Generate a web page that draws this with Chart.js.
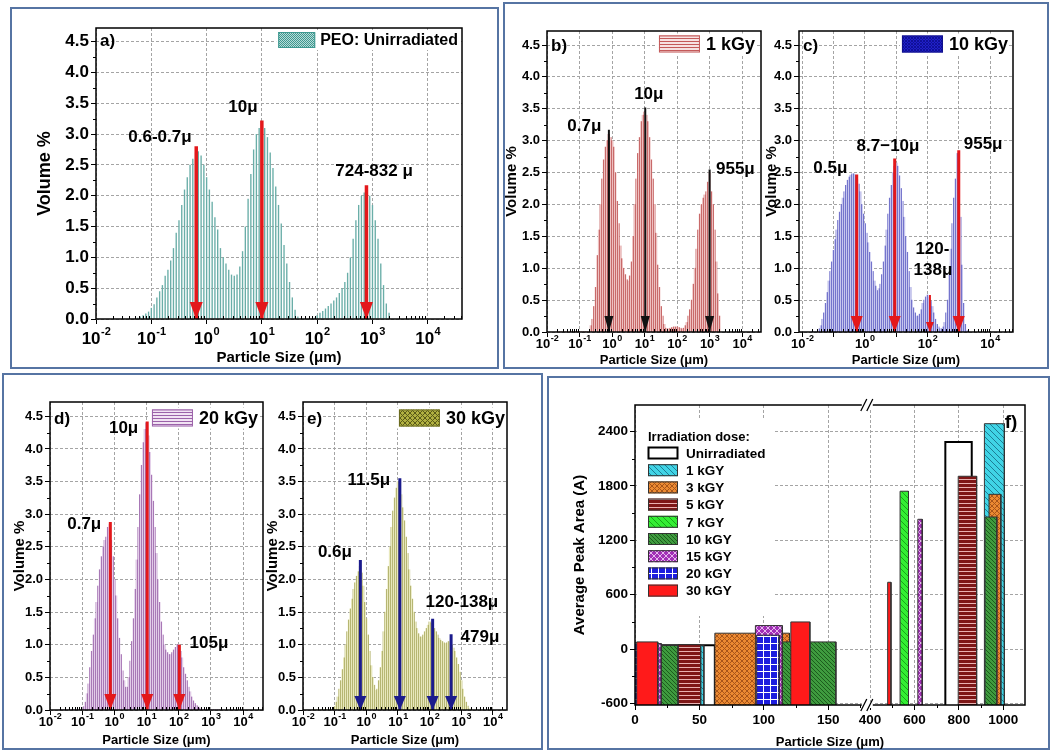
<!DOCTYPE html>
<html>
<head>
<meta charset="utf-8">
<script src="https://cdn.jsdelivr.net/npm/chart.js@4.4.1/dist/chart.umd.min.js"></script>
<style>
html, body { margin: 0; padding: 0; background: #fff; }
#page { position: relative; width: 1051px; height: 751px; overflow: hidden; background: #fff; }
.box { position: absolute; border: 2px solid #5674a3; box-sizing: border-box; }
canvas { position: absolute; }
</style>
</head>
<body>
<div id="page">
  <div class="box" style="left:10px;top:7px;width:489px;height:362px"></div>
  <div class="box" style="left:503px;top:2px;width:546px;height:367px"></div>
  <div class="box" style="left:2px;top:373px;width:541px;height:377px"></div>
  <div class="box" style="left:547px;top:376px;width:503px;height:374px"></div>
  <canvas id="cA"></canvas>
  <canvas id="cB"></canvas>
  <canvas id="cC"></canvas>
  <canvas id="cD"></canvas>
  <canvas id="cE"></canvas>
  <canvas id="cF"></canvas>
</div>
<script>
// ---- data ----
// particle size classes (um), 20 per decade
var sizes = [
  0.020, 0.0224, 0.0252, 0.0283, 0.0317, 0.0356, 0.0399, 0.0448, 0.0502, 0.0564,
  0.0632, 0.0710, 0.0796, 0.0893, 0.1002, 0.1125, 0.1262, 0.1416, 0.1589, 0.1783,
  0.2000, 0.2244, 0.2518, 0.2825, 0.3170, 0.3557, 0.3991, 0.4477, 0.5024, 0.5637,
  0.6325, 0.7096, 0.7962, 0.8934, 1.002, 1.125, 1.262, 1.416, 1.589, 1.783,
  2.000, 2.244, 2.518, 2.825, 3.170, 3.557, 3.991, 4.477, 5.024, 5.637,
  6.325, 7.096, 7.962, 8.934, 10.02, 11.25, 12.62, 14.16, 15.89, 17.83,
  20.00, 22.44, 25.18, 28.25, 31.70, 35.57, 39.91, 44.77, 50.24, 56.37,
  63.25, 70.96, 79.62, 89.34, 100.2, 112.5, 126.2, 141.6, 158.9, 178.3,
  200.0, 224.4, 251.8, 282.5, 317.0, 355.7, 399.1, 447.7, 502.4, 563.7,
  632.5, 709.6, 796.2, 893.4, 1002, 1125, 1262, 1416, 1589, 1783,
  2000
];

// volume % per size class
var volUnirr = [
  0, 0, 0, 0, 0, 0, 0, 0, 0, 0.02,
  0.04, 0.06, 0.09, 0.12, 0.18, 0.24, 0.35, 0.45, 0.55, 0.7,
  0.8, 0.95, 1.15, 1.4, 1.6, 1.85, 2.1, 2.3, 2.5, 2.6,
  2.7, 2.72, 2.65, 2.5, 2.3, 2.1, 1.9, 1.65, 1.45, 1.15,
  1.0, 0.9, 0.8, 0.72, 0.7, 0.72, 0.85, 1.1, 1.5, 1.95,
  2.35, 2.75, 3.0, 3.1, 3.15, 3.1, 2.95, 2.7, 2.45, 2.15,
  1.85, 1.55, 1.2, 0.9, 0.6, 0.35, 0.15, 0.04, 0, 0,
  0, 0, 0, 0.02, 0.06, 0.1, 0.13, 0.17, 0.21, 0.25,
  0.3, 0.35, 0.42, 0.5, 0.6, 0.75, 1.0, 1.3, 1.6, 1.85,
  2.0, 2.05, 2.05, 2.0, 1.85, 1.6, 1.3, 0.9, 0.55, 0.25,
  0.1
];
var vol1kGy = [
  0, 0, 0, 0, 0, 0, 0, 0, 0, 0,
  0, 0, 0, 0, 0, 0, 0, 0, 0, 0,
  0, 0.1, 0.2, 0.4, 0.7, 1.2, 1.6, 2.0, 2.4, 2.7,
  2.9, 3.0, 3.1, 3.05, 3.0, 2.9, 2.5, 2.05, 1.7, 1.35,
  1.15, 1.0, 0.9, 0.82, 0.8, 0.88, 1.1, 1.5, 2.0, 2.4,
  2.8, 3.05, 3.3, 3.4, 3.45, 3.4, 3.3, 3.05, 2.7, 2.4,
  2.0, 1.55, 1.05, 0.7, 0.4, 0.25, 0.12, 0.06, 0.05, 0.05,
  0.06, 0.07, 0.08, 0.08, 0.08, 0.07, 0.06, 0.05, 0.06, 0.1,
  0.15, 0.25, 0.35, 0.5, 0.75, 1.0, 1.3, 1.6, 1.85, 2.0,
  2.1, 2.15, 2.2, 2.35, 2.5, 2.2, 2.0, 1.6, 1.1, 0.6,
  0.25
];
var vol10kGy = [
  0, 0, 0, 0, 0, 0.05, 0.1, 0.2, 0.3, 0.45,
  0.62, 0.8, 0.95, 1.1, 1.28, 1.45, 1.6, 1.75, 1.88, 2.0,
  2.1, 2.2, 2.3, 2.38, 2.43, 2.46, 2.48, 2.48, 2.46, 2.4,
  2.32, 2.2, 2.0, 1.85, 1.7, 1.55, 1.4, 1.25, 1.1, 0.95,
  0.8, 0.72, 0.65, 0.68, 0.75, 0.9, 1.1, 1.35, 1.6, 1.85,
  2.1, 2.3, 2.5, 2.6, 2.65, 2.6, 2.45, 2.25, 2.05, 1.8,
  1.5, 1.25, 0.95, 0.7, 0.5, 0.38, 0.3, 0.25, 0.25, 0.28,
  0.35, 0.45, 0.5, 0.55, 0.58, 0.55, 0.48, 0.4, 0.3, 0.2,
  0.12, 0.08, 0.05, 0.05, 0.08, 0.15, 0.3, 0.5, 0.9, 1.3,
  1.7, 2.1, 2.4, 2.8, 2.0, 1.8, 1.05, 0.45, 0.12, 0.02,
  0
];
var vol20kGy = [
  0, 0, 0, 0, 0, 0, 0, 0, 0, 0,
  0, 0, 0, 0, 0, 0.05, 0.12, 0.25, 0.4, 0.65,
  0.9, 1.15, 1.4, 1.65, 1.9, 2.15, 2.35, 2.5, 2.6, 2.65,
  2.8, 2.85, 2.6, 2.35, 2.0, 1.75, 1.4, 1.1, 0.85, 0.6,
  0.45, 0.35, 0.35, 0.5, 0.75, 1.05, 1.4, 1.85, 2.3, 2.8,
  3.3, 3.75, 4.1, 4.3, 4.4, 4.2, 3.95, 3.6, 3.2, 2.8,
  2.4, 2.0, 1.65, 1.35, 1.15, 1.0, 0.92, 0.88, 0.85, 0.85,
  0.88, 0.92, 0.96, 1.0, 1.0, 0.9, 0.8, 0.65, 0.55, 0.45,
  0.35, 0.28, 0.2, 0.14, 0.1, 0.07, 0.05, 0.03, 0.01, 0,
  0, 0, 0, 0, 0, 0, 0, 0, 0, 0,
  0
];
var vol30kGy = [
  0, 0, 0, 0, 0, 0, 0, 0, 0, 0,
  0, 0, 0, 0, 0.05, 0.12, 0.2, 0.32, 0.45, 0.62,
  0.8, 1.0, 1.2, 1.38, 1.55, 1.7, 1.85, 1.95, 2.05, 2.12,
  2.2, 2.1, 1.9, 1.65, 1.4, 1.15, 0.9, 0.68, 0.5, 0.38,
  0.3, 0.32, 0.45, 0.65, 0.9, 1.2, 1.5, 1.85, 2.2, 2.5,
  2.8, 3.05, 3.25, 3.4, 3.5, 3.42, 3.3, 3.1, 2.9, 2.65,
  2.4, 2.15, 1.9, 1.7, 1.5, 1.35, 1.25, 1.17, 1.12, 1.12,
  1.15, 1.2, 1.25, 1.3, 1.35, 1.33, 1.3, 1.25, 1.2, 1.15,
  1.1, 1.07, 1.05, 1.03, 1.02, 1.03, 1.05, 1.03, 1.0, 0.95,
  0.9, 0.8, 0.7, 0.58, 0.45, 0.32, 0.2, 0.12, 0.06, 0.02,
  0
];

var decades = [0.01, 0.1, 1, 10, 100, 1000, 10000];
var volTicks = [0, 0.5, 1, 1.5, 2, 2.5, 3, 3.5, 4, 4.5];

// peak arrows (size, top of arrow) and peak notes
var arrowsA = { at: [0.65, 10, 780], top: [2.8, 3.22, 2.17] };
var arrowsB = { at: [0.8, 10.5, 1000], top: [3.17, 3.52, 2.55] };
var arrowsC = { at: [0.55, 9, 120, 1000], top: [2.47, 2.72, 0.58, 2.85] };
var arrowsD = { at: [0.75, 10.5, 105], top: [2.88, 4.42, 1.0] };
var arrowsE = { at: [0.65, 11.5, 125, 479], top: [2.3, 3.55, 1.4, 1.16] };

var notesA = { text: ['0.6-0.7\u03bc', '10\u03bc', '724-832 \u03bc'], x: [0.1436, 4.55, 1070], y: [2.955, 3.44, 2.39] };
var notesB = { text: ['0.7\u03bc', '10\u03bc', '955\u03bc'], x: [0.14, 13.5, 6200], y: [3.23, 3.72, 2.55] };
var notesC = { text: ['0.5\u03bc', '8.7\u221210\u03bc', '120-', '138\u03bc', '955\u03bc'], x: [0.079, 5.5, 144, 150, 6000], y: [2.56, 2.91, 1.30, 0.97, 2.94] };
var notesD = { text: ['0.7\u03bc', '10\u03bc', '105\u03bc'], x: [0.116, 1.94, 870], y: [2.85, 4.32, 1.02] };
var notesE = { text: ['0.6\u03bc', '11.5\u03bc', '120-138\u03bc', '479\u03bc'], x: [0.102, 1.2, 1050, 3900], y: [2.41, 3.52, 1.65, 1.12] };

// panel f: average peak area bars, each bar spans [start, end] um
var doseNames = ['Unirradiated', '1 kGY', '3 kGY', '5 kGY', '7 kGY', '10 kGY', '15 kGY', '20 kGY', '30 kGY'];
var peakStart = [[17, 739], [40, 915], [62, 936], [33.4, 797], [535], [20.4, 112, 135.8, 918], [17.7, 93.5, 615], [0, 94.5], [1.3, 121, 479]];
var peakEnd = [[62, 858], [53.5, 1005], [120, 989], [51, 880], [573], [33.4, 122, 156, 971], [20.4, 114.4, 635], [3, 112], [17.7, 135.8, 494]];
var peakArea = [[42, 2282], [40, 2484], [176, 1706], [50, 1905], [1740], [40, 80, 80, 1456], [62, 260, 1431], [70, 154], [80, 300, 737]];
var areaTicks = [-600, 0, 600, 1200, 1800, 2400];
var sizeTicksLow = [0, 50, 100, 150];
var sizeTicksHigh = [400, 600, 800, 1000];

// ---- look ----
var FONT = 'Arial, "Liberation Sans", Helvetica, sans-serif';
Chart.defaults.font.family = FONT;
Chart.defaults.color = '#000';

function tile(w, h, paint) {
  var c = document.createElement('canvas');
  c.width = w; c.height = h;
  var g = c.getContext('2d');
  paint(g, w, h);
  return g.createPattern(c, 'repeat');
}
function hatch(n, bg, fg, dir, lw) {
  return tile(n, n, function (g) {
    g.fillStyle = bg; g.fillRect(0, 0, n, n);
    g.strokeStyle = fg; g.lineWidth = lw || 1; g.beginPath();
    if (dir === 'v' || dir === '+') { g.moveTo(0.5, 0); g.lineTo(0.5, n); }
    if (dir === 'h' || dir === '+') { g.moveTo(0, 0.5); g.lineTo(n, 0.5); }
    for (var k = -1; k <= 1; k++) {
      if (dir === '\\' || dir === 'x') { g.moveTo(k * n, 0); g.lineTo(k * n + n, n); }
      if (dir === '/' || dir === 'x') { g.moveTo(k * n, n); g.lineTo(k * n + n, 0); }
    }
    g.stroke();
  });
}
var checker = tile(2, 2, function (g) {
  g.fillStyle = '#b8dcd8'; g.fillRect(0, 0, 2, 2);
  g.fillStyle = '#3f9890'; g.fillRect(0, 0, 1, 1); g.fillRect(1, 1, 1, 1);
});

var gridOpts = { color: '#a4a4a4', tickColor: '#000', tickLength: 5, lineWidth: 1, offset: false };

function histDecor(p) {
  return {
    id: 'histDecor',
    afterDatasetsDraw: function (chart) {
      var ctx = chart.ctx;
      chart.data.datasets.forEach(function (ds, i) {
        if (!ds.head) return;
        var pt = chart.getDatasetMeta(i).data[1];
        ctx.save();
        ctx.fillStyle = ds.borderColor;
        ctx.beginPath();
        ctx.moveTo(pt.x, pt.y);
        ctx.lineTo(pt.x - ds.head[0] / 2, pt.y - ds.head[1]);
        ctx.lineTo(pt.x + ds.head[0] / 2, pt.y - ds.head[1]);
        ctx.closePath();
        ctx.fill();
        ctx.restore();
      });
    },
    afterDraw: function (chart) {
      var ctx = chart.ctx, a = chart.chartArea, x = chart.scales.x, y = chart.scales.y;
      ctx.save();
      // minor ticks
      ctx.strokeStyle = '#000'; ctx.lineWidth = 1; ctx.beginPath();
      decades.forEach(function (d) {
        for (var m = 2; m < 10; m++) {
          var v = d * m;
          if (v <= x.min || v >= x.max) continue;
          var px = Math.round(x.getPixelForValue(v)) + 0.5;
          ctx.moveTo(px, a.bottom); ctx.lineTo(px, a.bottom - 3);
        }
      });
      for (var v = 0.25; v < y.max; v += 0.5) {
        var py = Math.round(y.getPixelForValue(v)) + 0.5;
        ctx.moveTo(a.left, py); ctx.lineTo(a.left - 3, py);
      }
      ctx.stroke();
      // decade labels as 10 with superscript
      ctx.fillStyle = '#000'; ctx.textBaseline = 'middle'; ctx.textAlign = 'left';
      decades.forEach(function (d) {
        if (d < x.min * 0.99 || d > x.max) return;
        var e = Math.round(Math.log10(d));
        if (p.everyOther && e % 2 !== 0) return;
        var px = x.getPixelForValue(d);
        var ex = String(e);
        ctx.font = 'bold ' + p.tickSize + 'px ' + FONT;
        var w1 = ctx.measureText('10').width;
        ctx.font = 'bold ' + p.supSize + 'px ' + FONT;
        var w2 = ctx.measureText(ex).width;
        var x0 = px - (w1 + w2) / 2, ly = a.bottom + p.labelDy;
        ctx.font = 'bold ' + p.tickSize + 'px ' + FONT;
        ctx.fillText('10', x0, ly);
        ctx.font = 'bold ' + p.supSize + 'px ' + FONT;
        ctx.fillText(ex, x0 + w1 + 0.5, ly - p.tickSize * 0.42);
      });
      // legend inside plot, top right
      var L = p.legend;
      ctx.font = 'bold ' + L.size + 'px ' + FONT;
      var tw = ctx.measureText(L.text).width;
      var tx = a.right - L.right - tw, cy = a.top + L.dy, sx = tx - L.gap - L.w;
      ctx.fillStyle = '#fff';
      ctx.fillRect(sx - 2, cy - L.h / 2 - 2, a.right - L.right - sx + 3, L.h + 4);
      ctx.fillStyle = L.fill;
      ctx.fillRect(sx, cy - L.h / 2, L.w, L.h);
      ctx.strokeStyle = L.border; ctx.lineWidth = 1;
      ctx.strokeRect(sx + 0.5, cy - L.h / 2 + 0.5, L.w - 1, L.h - 1);
      ctx.fillStyle = '#000';
      ctx.fillText(L.text, tx, cy + 1);
      // peak notes
      ctx.font = 'bold ' + p.noteSize + 'px ' + FONT;
      ctx.textAlign = 'center';
      p.notes.text.forEach(function (t, k) {
        ctx.fillText(t, x.getPixelForValue(p.notes.x[k]), y.getPixelForValue(p.notes.y[k]));
      });
      // panel letter
      ctx.font = 'bold 17px ' + FONT; ctx.textAlign = 'left';
      ctx.fillText(p.letter, a.left + 4, a.top + p.letterDy);
      // frame
      ctx.lineWidth = 1.5; ctx.strokeStyle = '#000';
      ctx.strokeRect(a.left, a.top, a.right - a.left, a.bottom - a.top);
      ctx.restore();
    }
  };
}

function histChart(p) {
  var cv = document.getElementById(p.id);
  var bx = p.box[0], by = p.box[1], bw = p.box[2], bh = p.box[3];
  cv.width = bw; cv.height = bh;
  cv.style.left = bx + 'px'; cv.style.top = by + 'px';
  var L = p.plot[0], T = p.plot[1], R = p.plot[2], B = p.plot[3];
  var datasets = [];
  p.arrows.at.forEach(function (xv, k) {
    var thin = p.thinLast && k === 2;
    datasets.push({
      type: 'line',
      data: [{ x: xv, y: p.arrows.top[k] }, { x: xv, y: 0 }],
      borderColor: p.arrowColor,
      borderWidth: thin ? 2 : p.arrowWidth,
      pointRadius: 0,
      order: 0,
      head: thin ? [8, 10] : p.head
    });
  });
  datasets.push({
    type: 'bar',
    data: sizes.map(function (s, i) { return { x: s, y: p.vals[i] }; }),
    backgroundColor: p.fill,
    borderWidth: 0,
    barPercentage: p.barPct,
    categoryPercentage: 1,
    order: 1
  });
  return new Chart(cv, {
    type: 'bar',
    data: { datasets: datasets },
    options: {
      responsive: false, animation: false, devicePixelRatio: 1, events: [],
      layout: { padding: { top: T - by, right: bx + bw - R, left: 0, bottom: 0 } },
      plugins: { legend: { display: false }, tooltip: { enabled: false } },
      scales: {
        x: {
          type: 'logarithmic', min: p.xr[0], max: p.xr[1], offset: false,
          afterBuildTicks: function (s) { s.ticks = decades.map(function (v) { return { value: v }; }); },
          afterFit: function (s) { s.height = by + bh - B; },
          ticks: { display: false },
          grid: gridOpts,
          border: { display: false, dash: [3, 2] },
          title: { display: true, text: 'Particle Size (\u03bcm)', font: { size: p.xTitle, weight: 'bold' }, color: '#000', padding: { top: 0, bottom: 4 } }
        },
        y: {
          min: 0, max: 4.72,
          afterBuildTicks: function (s) { s.ticks = volTicks.map(function (v) { return { value: v }; }); },
          afterFit: function (s) { s.width = L - bx; },
          ticks: { callback: function (v) { return v.toFixed(1); }, font: { size: p.tickSize, weight: 'bold' }, color: '#000', padding: 2 },
          grid: gridOpts,
          border: { display: false, dash: [3, 2] },
          title: { display: true, text: 'Volume %', font: { size: p.yTitle, weight: 'bold' }, color: '#000', padding: { top: 4, bottom: 0 } }
        }
      }
    },
    plugins: [histDecor(p)]
  });
}

var barStripes = function (bg, fg) { return hatch(2, bg, fg, 'v'); };

histChart({
  id: 'cA', box: [30, 14, 440, 357], plot: [96, 28, 462, 319], xr: [0.01, 41700],
  vals: volUnirr, fill: '#6aaea8', barPct: 0.5,
  arrows: arrowsA, arrowColor: '#e3181b', arrowWidth: 3.5, head: [13, 17],
  notes: notesA, noteSize: 17, tickSize: 17, supSize: 11, labelDy: 20, xTitle: 15, yTitle: 18,
  letter: 'a)', letterDy: 13,
  legend: { text: 'PEO: Unirradiated', size: 16, right: 4, dy: 12, gap: 5, w: 37, h: 16, fill: checker, border: '#3f9890' }
});
histChart({
  id: 'cB', box: [499, 17, 270, 355], plot: [547, 31, 761, 332], xr: [0.01, 38000],
  vals: vol1kGy, fill: barStripes('#eec0c0', '#c86a6a'), barPct: 1,
  arrows: arrowsB, arrowColor: '#111111', arrowWidth: 2, head: [9, 16],
  notes: notesB, noteSize: 17, tickSize: 13, supSize: 9, labelDy: 12, xTitle: 13, yTitle: 15,
  letter: 'b)', letterDy: 15,
  legend: { text: '1 kGy', size: 18, right: 6, dy: 13, gap: 6, w: 41, h: 17, fill: hatch(3, '#f6e2e2', '#c45a5a', 'h'), border: '#c45a5a' }
});
histChart({
  id: 'cC', box: [759, 17, 262, 355], plot: [799, 31, 1013, 332], xr: [0.0079, 54000],
  vals: vol10kGy, fill: barStripes('#c6c6ee', '#7474cc'), barPct: 1,
  arrows: arrowsC, arrowColor: '#e3181b', arrowWidth: 3, head: [12, 16], thinLast: true,
  notes: notesC, noteSize: 17, tickSize: 13, supSize: 9, labelDy: 12, xTitle: 13, yTitle: 15,
  letter: 'c)', letterDy: 15, everyOther: true,
  legend: { text: '10 kGy', size: 18, right: 5, dy: 13, gap: 6, w: 41, h: 17, fill: hatch(3, '#2020c8', '#10109a', 'x'), border: '#10108a' }
});
histChart({
  id: 'cD', box: [7, 388, 264, 364], plot: [50, 402, 263, 710], xr: [0.01, 41700],
  vals: vol20kGy, fill: barStripes('#e2cce8', '#a878b6'), barPct: 1,
  arrows: arrowsD, arrowColor: '#e3181b', arrowWidth: 3, head: [12, 16],
  notes: notesD, noteSize: 17, tickSize: 13, supSize: 9, labelDy: 12, xTitle: 13, yTitle: 15,
  letter: 'd)', letterDy: 17,
  legend: { text: '20 kGy', size: 18, right: 5, dy: 16, gap: 6, w: 41, h: 17, fill: hatch(3, '#f1e3f3', '#9b62a9', 'h'), border: '#9b62a9' }
});
histChart({
  id: 'cE', box: [260, 388, 255, 364], plot: [303, 402, 507, 710], xr: [0.01, 28000],
  vals: vol30kGy, fill: barStripes('#e8e8bc', '#b6b672'), barPct: 1,
  arrows: arrowsE, arrowColor: '#1b1b8c', arrowWidth: 3, head: [12, 14],
  notes: notesE, noteSize: 17, tickSize: 13, supSize: 9, labelDy: 12, xTitle: 13, yTitle: 15,
  letter: 'e)', letterDy: 17,
  legend: { text: '30 kGy', size: 18, right: 2, dy: 16, gap: 6, w: 41, h: 17, fill: hatch(5, '#b0b040', '#5a5a18', 'x'), border: '#6a6a20' }
});

// ---- panel f ----
var doseFill = [
  '#ffffff',
  hatch(6, '#40d4e6', '#1d7e96', '\\'),
  hatch(5, '#ec8a32', '#a8551a', 'x'),
  hatch(4, '#7e1616', '#e9b1b1', 'h'),
  hatch(6, '#34ee34', '#17a517', '\\'),
  hatch(4, '#3f9b3f', '#1c5c1c', '\\'),
  hatch(6, '#a22fb6', '#e6b8ee', 'x'),
  hatch(7, '#1c1cde', '#ffffff', '+'),
  '#ff1a1a'
];
var BASE = -615;
var LOW_MAX = 180;
var fDatasets = [];
doseNames.forEach(function (name, k) {
  peakStart[k].forEach(function (x0, j) {
    var x1 = peakEnd[k][j], h = peakArea[k][j];
    fDatasets.push({
      label: name,
      data: [{ x: x0, y: BASE }, { x: x0, y: h }, { x: x1, y: h }, { x: x1, y: BASE }],
      xAxisID: x1 <= LOW_MAX ? 'xl' : 'xr',
      fill: { value: BASE },
      backgroundColor: doseFill[k],
      borderColor: k === 0 ? '#000' : '#333',
      borderWidth: k === 0 ? 2 : 1,
      pointRadius: 0,
      tension: 0,
      order: 20 - k
    });
  });
});

var fDecor = {
  id: 'fDecor',
  beforeDatasetsDraw: function (chart) {
    var ctx = chart.ctx, a = chart.chartArea;
    ctx.save();
    ctx.fillStyle = '#fff';
    ctx.fillRect(a.left + 2, a.top + 15, 138, 196);
    var lx = a.left + 13;
    ctx.fillStyle = '#000'; ctx.textBaseline = 'middle'; ctx.textAlign = 'left';
    ctx.font = 'bold 13px ' + FONT;
    ctx.fillText('Irradiation dose:', lx, a.top + 32);
    doseNames.forEach(function (nm, k) {
      var cy = a.top + 48 + k * 17.2;
      ctx.fillStyle = doseFill[k];
      ctx.fillRect(lx, cy - 6, 30, 12);
      ctx.strokeStyle = k === 0 ? '#000' : '#333';
      ctx.lineWidth = k === 0 ? 2 : 1;
      ctx.strokeRect(lx + 0.5, cy - 5.5, 29, 11);
      ctx.fillStyle = '#000';
      ctx.font = 'bold 13.5px ' + FONT;
      ctx.fillText(nm, lx + 38, cy + 1);
    });
    ctx.restore();
  },
  afterDraw: function (chart) {
    var ctx = chart.ctx, a = chart.chartArea;
    var xl = chart.scales.xl, xr = chart.scales.xr, y = chart.scales.y;
    ctx.save();
    ctx.strokeStyle = '#000'; ctx.lineWidth = 1; ctx.beginPath();
    [-300, 300, 900, 1500, 2100].forEach(function (v) {
      var py = Math.round(y.getPixelForValue(v)) + 0.5;
      ctx.moveTo(a.left, py); ctx.lineTo(a.left - 3, py);
    });
    [25, 75, 125, 175].forEach(function (v) {
      var px = Math.round(xl.getPixelForValue(v)) + 0.5;
      ctx.moveTo(px, a.bottom); ctx.lineTo(px, a.bottom + 3);
    });
    [500, 700, 900].forEach(function (v) {
      var px = Math.round(xr.getPixelForValue(v)) + 0.5;
      ctx.moveTo(px, a.bottom); ctx.lineTo(px, a.bottom + 3);
    });
    ctx.stroke();
    // frame with axis break
    ctx.lineWidth = 1.5;
    ctx.strokeRect(a.left, a.top, a.right - a.left, a.bottom - a.top);
    var bk = xl.right;
    ctx.fillStyle = '#fff';
    ctx.fillRect(bk - 5, a.top - 3, 11, 6);
    ctx.fillRect(bk - 5, a.bottom - 3, 11, 6);
    ctx.lineWidth = 1.3; ctx.beginPath();
    [a.top, a.bottom].forEach(function (y0) {
      [-3, 3].forEach(function (off) {
        ctx.moveTo(bk + off - 3, y0 + 6); ctx.lineTo(bk + off + 3, y0 - 6);
      });
    });
    ctx.stroke();
    ctx.fillStyle = '#000'; ctx.textAlign = 'center'; ctx.textBaseline = 'middle';
    ctx.font = 'bold 13px ' + FONT;
    ctx.fillText('Particle Size (\u03bcm)', (a.left + a.right) / 2, chart.height - 10);
    ctx.font = 'bold 19px ' + FONT;
    ctx.fillText('f)', a.right - 14, a.top + 18);
    ctx.restore();
  }
};

(function () {
  var cv = document.getElementById('cF');
  var bx = 567, by = 391, bw = 473, bh = 361;
  var L = 635, T = 405, R = 1025, B = 705;
  cv.width = bw; cv.height = bh;
  cv.style.left = bx + 'px'; cv.style.top = by + 'px';
  var tickFont = { size: 13.5, weight: 'bold' };
  var plain = function (v) { return String(v); };
  new Chart(cv, {
    type: 'line',
    data: { datasets: fDatasets },
    options: {
      responsive: false, animation: false, devicePixelRatio: 1, events: [],
      layout: { padding: { top: T - by, right: bx + bw - R, left: 0, bottom: 0 } },
      plugins: { legend: { display: false }, tooltip: { enabled: false } },
      scales: {
        xl: {
          type: 'linear', position: 'bottom', stack: 'size', stackWeight: 230, min: 0, max: LOW_MAX,
          afterBuildTicks: function (s) { s.ticks = sizeTicksLow.map(function (v) { return { value: v }; }); },
          afterFit: function (s) { s.height = by + bh - B; },
          ticks: { font: tickFont, color: '#000', maxRotation: 0, autoSkip: false, padding: 2, callback: plain },
          grid: gridOpts, border: { display: false, dash: [3, 2] }
        },
        xr: {
          type: 'linear', position: 'bottom', stack: 'size', stackWeight: 157, min: 385, max: 1098,
          afterBuildTicks: function (s) { s.ticks = sizeTicksHigh.map(function (v) { return { value: v }; }); },
          afterFit: function (s) { s.height = by + bh - B; },
          ticks: { font: tickFont, color: '#000', maxRotation: 0, autoSkip: false, padding: 2, callback: plain },
          grid: gridOpts, border: { display: false, dash: [3, 2] }
        },
        y: {
          min: BASE, max: 2690,
          afterBuildTicks: function (s) { s.ticks = areaTicks.map(function (v) { return { value: v }; }); },
          afterFit: function (s) { s.width = L - bx; },
          ticks: { font: tickFont, color: '#000', padding: 2, callback: plain },
          grid: gridOpts, border: { display: false, dash: [3, 2] },
          title: { display: true, text: 'Average Peak Area (A)', font: { size: 15, weight: 'bold' }, color: '#000', padding: { top: 4, bottom: 0 } }
        }
      }
    },
    plugins: [fDecor]
  });
})();
</script>
</body>
</html>
